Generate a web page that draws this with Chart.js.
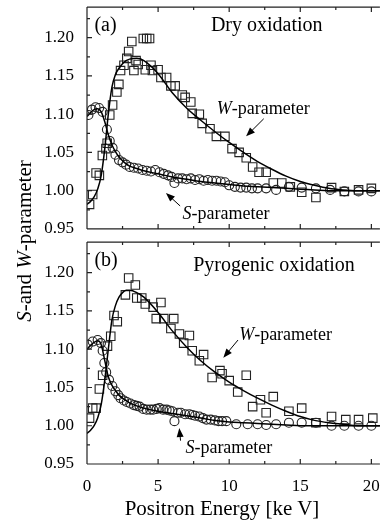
<!DOCTYPE html>
<html>
<head>
<meta charset="UTF-8">
<title>S and W parameter vs positron energy</title>
<script src="https://cdn.jsdelivr.net/npm/chart.js"></script>
<style>
  body { margin: 0; background: #fff; }
  #wrap { position: relative; width: 387px; height: 522px; overflow: hidden; font-family: "Liberation Serif", "Times New Roman", serif; color: #000; }
  canvas { position: absolute; left: 0; }
  #chartA { top: 0; }
  #chartB { top: 235px; }
  #ytitle { position: absolute; width: 300px; left: -126px; top: 229px; text-align: center;
            font-size: 21px; line-height: 24px; transform: rotate(-90deg); white-space: nowrap; }
  #xtitle { position: absolute; width: 300px; left: 72px; top: 496px; text-align: center;
            font-size: 21px; line-height: 25px; white-space: nowrap; }
</style>
</head>
<body>
<div id="wrap">
  <canvas id="chartA" width="387" height="236"></canvas>
  <canvas id="chartB" width="387" height="287"></canvas>
  <div id="ytitle"><i>S</i>-and <i>W</i>-parameter</div>
  <div id="xtitle">Positron Energy [ke V]</div>
</div>
<script>
var FONT = "'Liberation Serif', 'Times New Roman', serif";

// axis ticks
var xTicks = [0, 5, 10, 15, 20];
var yTicks = [0.95, 1.00, 1.05, 1.10, 1.15, 1.20];

// fitted curves
var fitE  = [0, 0.25, 0.5, 0.75, 1, 1.25, 1.5, 1.75, 2, 2.25, 2.5, 2.75, 3, 3.5, 4, 5, 6, 7, 8, 9, 10, 11, 12, 13, 14, 15, 16, 17, 18, 19, 20, 20.6];
var fitWa = [0.982, 0.986, 0.992, 1.002, 1.020, 1.055, 1.100, 1.135, 1.152, 1.160, 1.166, 1.170, 1.172, 1.173, 1.170, 1.153, 1.128, 1.108, 1.092, 1.077, 1.063, 1.050, 1.038, 1.028, 1.019, 1.012, 1.007, 1.003, 1.001, 1.000, 1.000, 1.000];
var fitSa = [1.097, 1.102, 1.106, 1.107, 1.103, 1.090, 1.073, 1.060, 1.051, 1.044, 1.039, 1.035, 1.032, 1.029, 1.026, 1.022, 1.018, 1.015, 1.012, 1.010, 1.008, 1.006, 1.005, 1.004, 1.003, 1.002, 1.001, 1.000, 1.000, 1.000, 1.000, 1.000];
var fitWb = [0.990, 0.994, 1.000, 1.010, 1.028, 1.060, 1.100, 1.138, 1.157, 1.168, 1.174, 1.177, 1.177, 1.174, 1.168, 1.148, 1.124, 1.103, 1.085, 1.070, 1.057, 1.046, 1.036, 1.027, 1.019, 1.012, 1.007, 1.004, 1.002, 1.000, 1.000, 1.000];
var fitSb = [1.100, 1.105, 1.109, 1.111, 1.106, 1.085, 1.064, 1.053, 1.046, 1.040, 1.036, 1.033, 1.030, 1.026, 1.023, 1.019, 1.016, 1.013, 1.010, 1.007, 1.005, 1.004, 1.003, 1.002, 1.001, 1.000, 1.000, 1.000, 1.000, 1.000, 1.000, 1.000];

// (a) dry oxidation - W parameter (squares)
var wEa = [0.18, 0.4, 0.64, 0.87, 1.08, 1.33, 1.42, 1.6, 1.8, 2.1, 2.24, 2.36, 2.6, 2.8, 2.93, 3.15, 3.3, 3.45, 3.6, 3.96, 4.1, 4.2, 4.4, 4.5, 4.6, 5.0, 5.2, 5.6, 5.9, 6.2, 6.7, 6.9, 7.3, 7.4, 7.9, 8.1, 8.65, 9.1, 9.7, 10.2, 10.7, 11.2, 11.65, 12.1, 12.6, 13.1, 13.7, 14.3, 15.1, 16.1, 17.2, 18.1, 19.1, 20.0];
var wVa = [0.982, 0.995, 1.023, 1.020, 1.046, 1.055, 1.062, 1.099, 1.112, 1.129, 1.139, 1.157, 1.164, 1.173, 1.182, 1.195, 1.157, 1.170, 1.165, 1.199, 1.158, 1.199, 1.199, 1.164, 1.157, 1.158, 1.148, 1.148, 1.137, 1.137, 1.125, 1.122, 1.116, 1.101, 1.100, 1.088, 1.081, 1.071, 1.071, 1.055, 1.050, 1.043, 1.031, 1.024, 1.024, 1.010, 1.010, 1.005, 0.998, 0.991, 1.004, 0.999, 1.001, 1.003];
// (a) dry oxidation - S parameter (circles)
var sEa = [0.1, 0.35, 0.6, 0.85, 1.1, 1.4, 1.6, 1.8, 2.0, 2.25, 2.5, 2.75, 3.0, 3.3, 3.6, 3.9, 4.2, 4.5, 4.8, 5.1, 5.4, 5.7, 5.95, 6.15, 6.4, 6.7, 7.0, 7.3, 7.6, 7.9, 8.2, 8.5, 8.8, 9.1, 9.4, 9.7, 10.0, 10.4, 10.8, 11.2, 11.6, 12.0, 12.6, 13.3, 14.2, 15.1, 16.1, 17.1, 18.1, 19.1, 20.0];
var sVa = [1.099, 1.106, 1.109, 1.108, 1.103, 1.080, 1.065, 1.056, 1.047, 1.040, 1.037, 1.034, 1.031, 1.030, 1.029, 1.027, 1.026, 1.025, 1.027, 1.024, 1.022, 1.020, 1.018, 1.010, 1.016, 1.016, 1.015, 1.016, 1.014, 1.015, 1.013, 1.014, 1.013, 1.013, 1.012, 1.011, 1.007, 1.005, 1.004, 1.004, 1.003, 1.003, 1.003, 1.001, 1.005, 1.004, 1.003, 1.001, 0.999, 0.999, 0.999];

// (b) pyrogenic oxidation - W parameter (squares)
var wEb = [0.18, 0.4, 0.64, 0.87, 1.1, 1.44, 1.67, 1.9, 2.13, 2.7, 2.93, 3.4, 3.5, 3.85, 4.1, 4.65, 4.87, 5.2, 5.4, 5.9, 6.1, 6.5, 6.8, 7.2, 7.4, 7.9, 8.2, 8.8, 9.35, 9.5, 10.0, 10.6, 11.2, 11.65, 12.2, 12.6, 13.1, 14.2, 15.1, 16.1, 17.2, 18.2, 19.1, 20.1];
var wVb = [1.010, 1.023, 1.023, 1.048, 1.066, 1.104, 1.117, 1.144, 1.136, 1.171, 1.193, 1.184, 1.167, 1.167, 1.159, 1.155, 1.140, 1.161, 1.140, 1.127, 1.140, 1.120, 1.108, 1.118, 1.098, 1.085, 1.093, 1.063, 1.072, 1.068, 1.059, 1.044, 1.066, 1.025, 1.034, 1.017, 1.038, 1.019, 1.023, 1.004, 1.012, 1.008, 1.008, 1.010];
// (b) pyrogenic oxidation - S parameter (circles)
var sEb = [0.06, 0.4, 0.75, 0.98, 1.1, 1.22, 1.35, 1.55, 1.78, 2.0, 2.2, 2.36, 2.6, 2.8, 3.05, 3.3, 3.5, 3.7, 3.95, 4.2, 4.45, 4.65, 4.9, 5.1, 5.35, 5.6, 5.8, 6.0, 6.15, 6.4, 6.6, 6.9, 7.2, 7.4, 7.6, 7.9, 8.15, 8.4, 8.7, 9.0, 9.25, 9.5, 9.8, 10.5, 11.3, 12.0, 12.6, 13.3, 14.2, 15.1, 16.1, 17.2, 18.1, 19.1, 20.0];
var sVb = [1.106, 1.110, 1.112, 1.108, 1.098, 1.082, 1.070, 1.060, 1.052, 1.045, 1.040, 1.036, 1.033, 1.031, 1.029, 1.027, 1.026, 1.025, 1.022, 1.021, 1.021, 1.021, 1.022, 1.023, 1.021, 1.021, 1.020, 1.019, 1.006, 1.017, 1.017, 1.015, 1.015, 1.014, 1.013, 1.012, 1.010, 1.008, 1.008, 1.007, 1.006, 1.006, 1.006, 1.002, 1.002, 1.002, 1.001, 1.002, 1.004, 1.004, 1.004, 1.000, 1.000, 1.000, 1.000];

function pts(xs, ys) {
  return xs.map(function (x, i) { return { x: x, y: ys[i] }; });
}

// box with inward ticks on left, top and bottom
var framePlugin = {
  id: "frame",
  afterDraw: function (chart) {
    var ctx = chart.ctx, a = chart.chartArea, xs = chart.scales.x, ys = chart.scales.y;
    ctx.save();
    ctx.strokeStyle = "#222";
    ctx.lineWidth = 1.2;
    ctx.beginPath();
    ctx.moveTo(a.left, a.top); ctx.lineTo(a.right, a.top);
    ctx.moveTo(a.left, a.top); ctx.lineTo(a.left, a.bottom);
    ctx.moveTo(a.left, a.bottom); ctx.lineTo(a.right, a.bottom);
    for (var k = 0; k <= 11; k++) {
      var py = ys.getPixelForValue(0.95 + k * 0.025);
      var ly = k % 2 === 0 ? 5 : 3;
      ctx.moveTo(a.left, py); ctx.lineTo(a.left + ly, py);
    }
    for (var j = 0; j <= 8; j++) {
      var px = xs.getPixelForValue(j * 2.5);
      var lx = j % 2 === 0 ? 5 : 3;
      ctx.moveTo(px, a.top); ctx.lineTo(px, a.top + lx);
      ctx.moveTo(px, a.bottom); ctx.lineTo(px, a.bottom - lx);
    }
    ctx.stroke();
    ctx.restore();
  }
};

// panel labels and arrows, placed in data coordinates
var notesPlugin = {
  id: "notes",
  afterDatasetsDraw: function (chart, args, opts) {
    var ctx = chart.ctx, xs = chart.scales.x, ys = chart.scales.y;
    ctx.save();
    ctx.fillStyle = "#000";
    ctx.strokeStyle = "#000";
    ctx.textBaseline = "middle";
    ctx.textAlign = "left";
    (opts.texts || []).forEach(function (t) {
      var x = xs.getPixelForValue(t.x), y = ys.getPixelForValue(t.y), total = 0;
      t.parts.forEach(function (p) {
        ctx.font = (p.i ? "italic " : "") + t.size + "px " + FONT;
        total += ctx.measureText(p.s).width;
      });
      if (t.align === "center") x -= total / 2;
      t.parts.forEach(function (p) {
        ctx.font = (p.i ? "italic " : "") + t.size + "px " + FONT;
        ctx.fillText(p.s, x, y);
        x += ctx.measureText(p.s).width;
      });
    });
    (opts.arrows || []).forEach(function (r) {
      var x1 = xs.getPixelForValue(r.x1), y1 = ys.getPixelForValue(r.y1);
      var x2 = xs.getPixelForValue(r.x2), y2 = ys.getPixelForValue(r.y2);
      var ang = Math.atan2(y2 - y1, x2 - x1), L = 9, W = 3.5;
      var c = Math.cos(ang), s = Math.sin(ang);
      ctx.lineWidth = 1;
      ctx.beginPath(); ctx.moveTo(x1, y1); ctx.lineTo(x2 - c * 4, y2 - s * 4); ctx.stroke();
      ctx.beginPath();
      ctx.moveTo(x2, y2);
      ctx.lineTo(x2 - L * c + W * s, y2 - L * s - W * c);
      ctx.lineTo(x2 - L * c - W * s, y2 - L * s + W * c);
      ctx.closePath();
      ctx.fill();
    });
    ctx.restore();
  }
};

function makeChart(id, fitW, fitS, wE, wV, sE, sV, notes, showX) {
  return new Chart(document.getElementById(id), {
    type: "scatter",
    data: {
      datasets: [
        { type: "line", data: pts(fitE, fitW), borderColor: "#000", borderWidth: 1.5, pointRadius: 0, cubicInterpolationMode: "monotone", fill: false },
        { type: "line", data: pts(fitE, fitS), borderColor: "#000", borderWidth: 1.5, pointRadius: 0, cubicInterpolationMode: "monotone", fill: false },
        { data: pts(wE, wV), pointStyle: "rect", pointRadius: 6, borderColor: "#222", borderWidth: 1.1, backgroundColor: "rgba(0,0,0,0)" },
        { data: pts(sE, sV), pointStyle: "circle", pointRadius: 4.5, borderColor: "#222", borderWidth: 1.1, backgroundColor: "rgba(0,0,0,0)" }
      ]
    },
    options: {
      responsive: false,
      animation: false,
      devicePixelRatio: 1,
      layout: { padding: showX ? { top: 0, left: 0, right: 0, bottom: 0 } : { top: 7, left: 0, right: 0, bottom: 1 } },
      plugins: { legend: { display: false }, tooltip: { enabled: false }, notes: notes },
      scales: {
        x: {
          type: "linear", min: 0, max: 20.6, display: showX,
          grid: { display: false }, border: { display: false },
          ticks: { color: "#000", font: { family: FONT, size: 17 }, padding: 4 },
          afterBuildTicks: function (s) { s.ticks = xTicks.map(function (v) { return { value: v }; }); },
          afterFit: function (s) {
            s.paddingLeft = 0; s.paddingRight = 0;
            if (showX) s.height = 58;
          }
        },
        y: {
          type: "linear", min: 0.95, max: 1.24,
          grid: { display: false }, border: { display: false },
          ticks: { color: "#000", font: { family: FONT, size: 17 }, padding: 5, callback: function (v) { return v.toFixed(2); } },
          afterBuildTicks: function (s) { s.ticks = yTicks.map(function (v) { return { value: v }; }); },
          afterFit: function (s) {
            s.paddingTop = 0; s.paddingBottom = 0;
            s.width = 87;
          }
        }
      }
    },
    plugins: [framePlugin, notesPlugin]
  });
}

makeChart("chartA", fitWa, fitSa, wEa, wVa, sEa, sVa, {
  texts: [
    { x: 0.52, y: 1.215, size: 20, parts: [{ s: "(a)" }] },
    { x: 12.64, y: 1.215, size: 20, align: "center", parts: [{ s: "Dry oxidation" }] },
    { x: 9.13, y: 1.107, size: 18, parts: [{ s: "W", i: true }, { s: "-parameter" }] },
    { x: 6.72, y: 0.969, size: 18, parts: [{ s: "S", i: true }, { s: "-parameter" }] }
  ],
  arrows: [
    { x1: 12.43, y1: 1.094, x2: 11.19, y2: 1.071 },
    { x1: 6.55, y1: 0.980, x2: 5.55, y2: 0.997 }
  ]
}, false);

makeChart("chartB", fitWb, fitSb, wEb, wVb, sEb, sVb, {
  texts: [
    { x: 0.52, y: 1.216, size: 20, parts: [{ s: "(b)" }] },
    { x: 13.15, y: 1.2095, size: 20, align: "center", parts: [{ s: "Pyrogenic oxidation" }] },
    { x: 10.7, y: 1.118, size: 18, parts: [{ s: "W", i: true }, { s: "-parameter" }] },
    { x: 6.92, y: 0.970, size: 18, parts: [{ s: "S", i: true }, { s: "-parameter" }] }
  ],
  arrows: [
    { x1: 10.62, y1: 1.112, x2: 9.59, y2: 1.089 },
    { x1: 6.58, y1: 0.9805, x2: 6.49, y2: 0.997 }
  ]
}, true);
</script>
</body>
</html>
